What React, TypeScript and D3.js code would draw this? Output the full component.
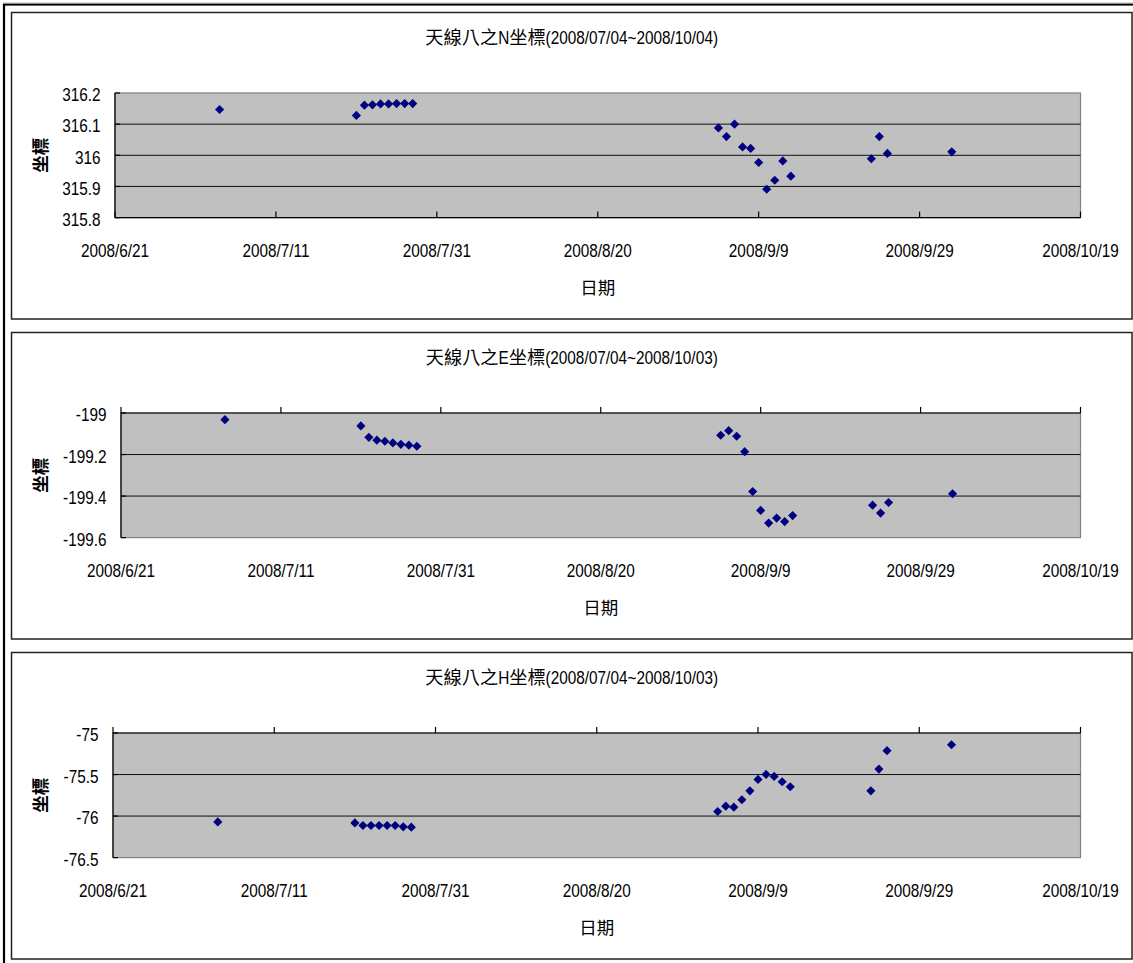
import React from "react";
import * as d3 from "d3";

// Observation dates shared by all three series
const observationDates = [
  "2008-07-04",
  "2008-07-21", "2008-07-22", "2008-07-23", "2008-07-24", "2008-07-25", "2008-07-26", "2008-07-27", "2008-07-28",
  "2008-09-04", "2008-09-05", "2008-09-06", "2008-09-07", "2008-09-08", "2008-09-09", "2008-09-10", "2008-09-11", "2008-09-12", "2008-09-13",
  "2008-09-23", "2008-09-24", "2008-09-25",
  "2008-10-03",
];

const northValues = [
  316.147,
  316.128, 316.161, 316.162, 316.165, 316.165, 316.166, 316.166, 316.166,
  316.088, 316.06, 316.1, 316.027, 316.022, 315.977, 315.891, 315.92, 315.982, 315.933,
  315.989, 316.06, 316.006,
  316.011,
];

const eastValues = [
  -199.032,
  -199.062, -199.117, -199.131, -199.136, -199.144, -199.151, -199.155, -199.16,
  -199.107, -199.085, -199.112, -199.186, -199.378, -199.469, -199.53, -199.506, -199.523, -199.494,
  -199.444, -199.482, -199.431,
  -199.389,
];

const heightValues = [
  -76.07,
  -76.082, -76.114, -76.114, -76.114, -76.114, -76.114, -76.13, -76.134,
  -75.945, -75.881, -75.893, -75.804, -75.696, -75.559, -75.499, -75.523, -75.587, -75.647,
  -75.696, -75.434, -75.213,
  -75.141,
];

const northTicks = [315.8, 315.9, 316, 316.1, 316.2];
const eastTicks = [-199.6, -199.4, -199.2, -199];
const heightTicks = [-76.5, -76, -75.5, -75];

const dateTicks = ["2008-06-21", "2008-07-11", "2008-07-31", "2008-08-20", "2008-09-09", "2008-09-29", "2008-10-19"];

const northTitle = "天線八之N坐標(2008/07/04~2008/10/04)";
const eastTitle = "天線八之E坐標(2008/07/04~2008/10/03)";
const heightTitle = "天線八之H坐標(2008/07/04~2008/10/03)";
const yAxisTitle = "坐標";
const xAxisTitle = "日期";

const parseDate = d3.timeParse("%Y-%m-%d");
const formatDate = d3.timeFormat("%Y/%-m/%-d");

const LATIN_FONT = "'Liberation Sans', Arial, sans-serif";
const CJK_FONT = "'Noto Sans CJK TC', 'Noto Sans CJK SC', sans-serif";
const SQUEEZE = 0.82; // narrow Latin glyphs
const LABEL_SIZE = 18.7;
const TITLE_LATIN_SIZE = 18.7;
const TITLE_CJK_SIZE = 18.2;

let measureCtx: CanvasRenderingContext2D | null = null;
function latinWidth(text: string, size: number): number {
  if (!measureCtx) measureCtx = document.createElement("canvas").getContext("2d");
  if (!measureCtx) return text.length * size * 0.55;
  measureCtx.font = `${size}px 'Liberation Sans', Arial, sans-serif`;
  return measureCtx.measureText(text).width;
}

function NarrowText({ x, y, anchor, size, children }: { x: number; y: number; anchor: string; size: number; children: string }) {
  return (
    <text
      transform={`translate(${x},${y}) scale(${SQUEEZE},1)`}
      textAnchor={anchor}
      fontFamily={LATIN_FONT}
      fontSize={size}
      fill="#000"
    >
      {children}
    </text>
  );
}

// Title mixing CJK (normal width) and Latin (narrow) runs, centred on cx
function MixedTitle({ cx, baseline, text }: { cx: number; baseline: number; text: string }) {
  const runs = text.match(/[\u3000-\u9fff]+|[^\u3000-\u9fff]+/g) || [];
  const items = runs.map((r) => {
    const cjk = /[\u3000-\u9fff]/.test(r);
    const w = cjk ? r.length * TITLE_CJK_SIZE : latinWidth(r, TITLE_LATIN_SIZE) * SQUEEZE;
    return { r, cjk, w };
  });
  const total = items.reduce((s, it) => s + it.w, 0);
  let xPos = cx - total / 2;
  return (
    <g>
      {items.map((it, i) => {
        const x0 = xPos;
        xPos += it.w;
        return it.cjk ? (
          <text key={i} x={x0} y={baseline} fontFamily={CJK_FONT} fontSize={TITLE_CJK_SIZE} fill="#000">
            {it.r}
          </text>
        ) : (
          <NarrowText key={i} x={x0} y={baseline} anchor="start" size={TITLE_LATIN_SIZE}>
            {it.r}
          </NarrowText>
        );
      })}
    </g>
  );
}

const PANEL_LEFT = 11.5;
const PANEL_RIGHT = 1132;
const PANEL_HEIGHT = 306.5;
const PLOT_RIGHT = 1080.5;

const diamond = d3.symbol().type(d3.symbolSquare).size(42)();

type PanelProps = {
  top: number;
  plotLeft: number;
  title: string;
  values: number[];
  ticks: number[];
  axisAtTop: boolean;
};

function Panel({ top, plotLeft, title, values, ticks, axisAtTop }: PanelProps) {
  const plotTop = top + 80.5;
  const plotBottom = plotTop + 124.6;
  const tickDates = dateTicks.map((d) => parseDate(d) as Date);
  const x = d3
    .scaleTime()
    .domain([tickDates[0], tickDates[tickDates.length - 1]])
    .range([plotLeft, PLOT_RIGHT]);
  const y = d3
    .scaleLinear()
    .domain([ticks[0], ticks[ticks.length - 1]])
    .range([plotBottom, plotTop]);
  const axisY = axisAtTop ? plotTop : plotBottom;
  const points = observationDates.map((d, i) => ({ date: parseDate(d) as Date, value: values[i] }));
  const panelCx = (PANEL_LEFT + PANEL_RIGHT) / 2;
  const plotCx = (plotLeft + PLOT_RIGHT) / 2;

  return (
    <g>
      <rect
        x={PANEL_LEFT}
        y={top}
        width={PANEL_RIGHT - PANEL_LEFT}
        height={PANEL_HEIGHT}
        fill="#fff"
        stroke="#222"
        strokeWidth={1.5}
      />
      <MixedTitle cx={panelCx} baseline={top + 31.5} text={title} />

      {/* plot area */}
      <rect
        x={plotLeft}
        y={plotTop}
        width={PLOT_RIGHT - plotLeft}
        height={plotBottom - plotTop}
        fill="#c0c0c0"
        stroke="#808080"
        strokeWidth={1.2}
      />
      {ticks.slice(1, -1).map((t) => (
        <line key={t} x1={plotLeft} x2={PLOT_RIGHT} y1={y(t)} y2={y(t)} stroke="#111" strokeWidth={1} />
      ))}

      {/* y axis */}
      <line x1={plotLeft} x2={plotLeft} y1={plotTop} y2={plotBottom} stroke="#000" strokeWidth={1.2} />
      {ticks.map((t) => (
        <g key={t}>
          <line x1={plotLeft} x2={plotLeft + 5} y1={y(t)} y2={y(t)} stroke="#000" strokeWidth={1.2} />
          <NarrowText x={plotLeft - 14.5} y={y(t) + 8.3} anchor="end" size={LABEL_SIZE}>
            {String(t)}
          </NarrowText>
        </g>
      ))}

      {/* x axis */}
      <line x1={plotLeft} x2={PLOT_RIGHT} y1={axisY} y2={axisY} stroke="#000" strokeWidth={1.2} />
      {tickDates.map((d, i) => (
        <g key={i}>
          <line x1={x(d)} x2={x(d)} y1={axisY} y2={axisY - 6} stroke="#000" strokeWidth={1.2} />
          <NarrowText x={x(d)} y={plotBottom + 39.4} anchor="middle" size={LABEL_SIZE}>
            {formatDate(d)}
          </NarrowText>
        </g>
      ))}

      {/* observations */}
      {points.map((p, i) => (
        <path
          key={i}
          d={diamond || ""}
          transform={`translate(${x(p.date)},${y(p.value)}) rotate(45)`}
          fill="#000080"
        />
      ))}

      {/* axis titles */}
      <text
        transform={`translate(39.2,${(plotTop + plotBottom) / 2}) rotate(-90)`}
        textAnchor="middle"
        dominantBaseline="central"
        fontFamily={CJK_FONT}
        fontSize={17.5}
        fontWeight="bold"
        fill="#000"
      >
        {yAxisTitle}
      </text>
      <text x={plotCx} y={top + 281.3} textAnchor="middle" fontFamily={CJK_FONT} fontSize={17.5} fill="#000">
        {xAxisTitle}
      </text>
    </g>
  );
}

export default function App() {
  return (
    <svg
      width={1133}
      height={963}
      style={{ position: "absolute", left: 0, top: 0, background: "#fff" }}
    >
      <rect x={0} y={0} width={1133} height={963} fill="#fff" />
      {/* outer frame */}
      <rect x={4} y={4.5} width={1300} height={1100} fill="none" stroke="#000" strokeWidth={2.2} />
      <line x1={3} x2={1133} y1={3} y2={3} stroke="#bbb" strokeWidth={1} />
      <Panel top={12.5} plotLeft={115} title={northTitle} values={northValues} ticks={northTicks} axisAtTop={false} />
      <Panel top={332.5} plotLeft={121} title={eastTitle} values={eastValues} ticks={eastTicks} axisAtTop={true} />
      <Panel top={652.5} plotLeft={113} title={heightTitle} values={heightValues} ticks={heightTicks} axisAtTop={true} />
    </svg>
  );
}
